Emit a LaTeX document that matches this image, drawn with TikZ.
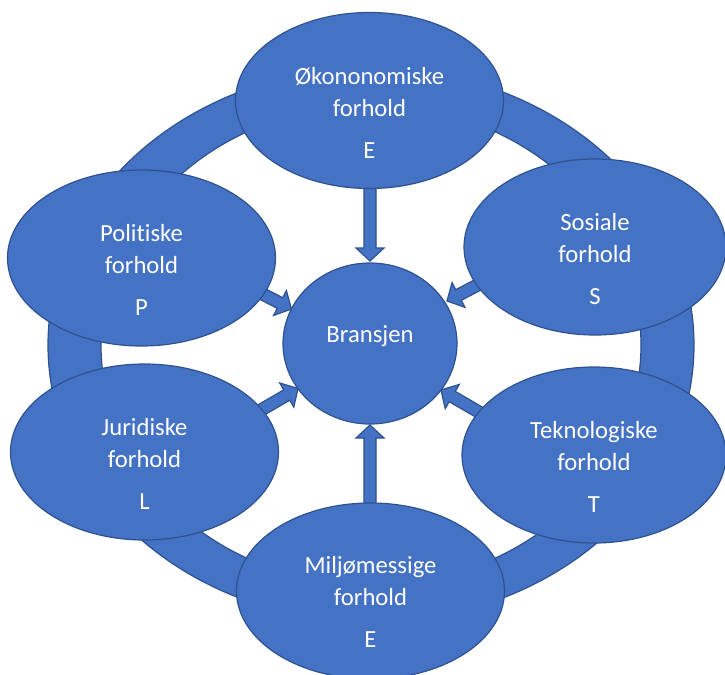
\documentclass[tikz,border=0pt]{standalone}
\usepackage{fontspec}
\setmainfont{Carlito}[Ligatures=NoCommon]
\usetikzlibrary{shapes.geometric,calc}
\definecolor{fillblue}{HTML}{4472C4}
\definecolor{edgeblue}{HTML}{2F528F}

% block arrow from a tail coordinate to a tip coordinate
\newcommand\blockarrow[2]{%
  \path ($(#2)!9.75pt!(#1)$) coordinate (headbase);
  \filldraw[shapefill]
    ($(#1)!4.5pt!90:(#2)$) -- ($(headbase)!4.5pt!90:(#2)$) --
    ($(headbase)!10.5pt!90:(#2)$) -- (#2) --
    ($(headbase)!10.5pt!-90:(#2)$) -- ($(headbase)!4.5pt!-90:(#2)$) --
    ($(#1)!4.5pt!-90:(#2)$) -- cycle;
}

\begin{document}
\begin{tikzpicture}[x=0.75pt,y=-0.75pt,
  shapefill/.style={fill=fillblue,draw=edgeblue,line width=0.9pt},
  factor/.style={shapefill,ellipse,inner sep=0pt,minimum width=201pt,minimum height=132pt},
  hub/.style={shapefill,ellipse,inner sep=0pt,minimum width=130.5pt,minimum height=120.75pt},
  caption/.style={text=white,align=center,inner sep=0pt,
    font=\fontsize{18.5}{24}\selectfont}]
\useasboundingbox (0,0) rectangle (725,675);

% the ring behind the six factors
\filldraw[shapefill,even odd rule]
  (371,345) ellipse [x radius=323, y radius=277]
  (371,345) ellipse [x radius=270, y radius=240];

% arrow ends
\coordinate (Etail) at (370,150);  \coordinate (Etip) at (370,261);
\coordinate (Mtail) at (370,540);  \coordinate (Mtip) at (370,425);
\coordinate (Ptail) at (247,286);  \coordinate (Ptip) at (291.5,309);
\coordinate (Stail) at (491,278);  \coordinate (Stip) at (447,301);
\coordinate (Ltail) at (255,413.5);\coordinate (Ltip) at (298,388.5);
\coordinate (Ttail) at (484,415);  \coordinate (Ttip) at (441,390);

\blockarrow{Etail}{Etip}
\blockarrow{Mtail}{Mtip}
\blockarrow{Ptail}{Ptip}
\blockarrow{Stail}{Stip}
\blockarrow{Ltail}{Ltip}
\blockarrow{Ttail}{Ttip}

% the six factors
\node[factor] (E) at (369.5,100.5) {};
\node[factor] (P) at (141.5,258) {};
\node[factor,minimum width=196.5pt] (S) at (595,247) {};
\node[factor] (L) at (144.5,452) {};
\node[factor,minimum width=198pt] (T) at (594,455) {};
\node[factor] (M) at (370.5,591) {};

\node[caption] (Etext) at ($(E)+(0,12)$) {Økononomiske\\forhold\\[7.5pt]E};
\node[caption] (Ptext) at ($(P)+(0,12)$) {Politiske\\forhold\\[7.5pt]P};
\node[caption] (Stext) at ($(S)+(0,12)$) {Sosiale\\forhold\\[7.5pt]S};
\node[caption] (Ltext) at ($(L)+(0,12)$) {Juridiske\\forhold\\[7.5pt]L};
\node[caption] (Ttext) at ($(T)+(0,12)$) {Teknologiske\\forhold\\[7.5pt]T};
\node[caption] (Mtext) at ($(M)+(0,11)$) {Miljømessige\\forhold\\[7.5pt]E};

% the industry in the middle
\node[hub] (B) at (370,343.5) {};
\node[caption,anchor=base] (Btext) at (370,342) {Bransjen};
\end{tikzpicture}
\end{document}
